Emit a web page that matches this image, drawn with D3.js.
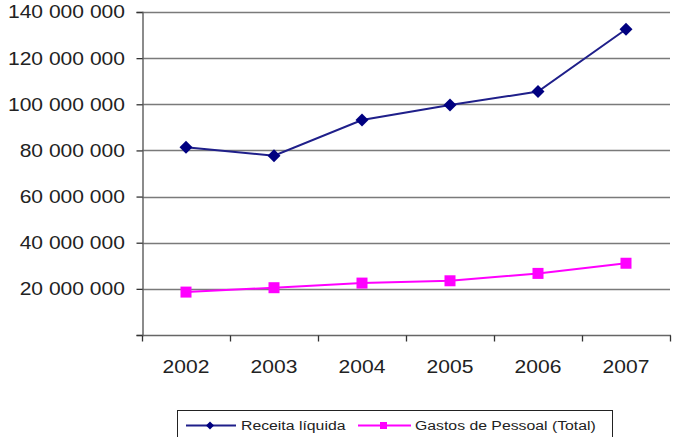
<!DOCTYPE html>
<html><head><meta charset="utf-8">
<script src="https://cdn.jsdelivr.net/npm/d3@7"></script>
<style>body{margin:0;background:#fff}svg{display:block}text{font-family:"Liberation Sans",Arial,sans-serif;fill:#222}</style>
</head><body><svg id="c" width="676" height="437"></svg>
<script>
const years = ["2002","2003","2004","2005","2006","2007"];
const receita = [81400000, 77700000, 93200000, 99700000, 105500000, 132500000];
const gastos = [18600000, 20500000, 22500000, 23500000, 26700000, 31100000];
const yTicks = [0, 20000000, 40000000, 60000000, 80000000, 100000000, 120000000, 140000000];
const seriesNames = ["Receita líquida", "Gastos de Pessoal (Total)"];

const svg = d3.select("#c");
const SX = 1.17;
const mL = 142, mR = 670, mT = 12, mB = 335;
const x = d3.scaleBand().domain(years).range([mL, mR]);
const y = d3.scaleLinear().domain([0, 140000000]).range([mB, mT]);
const fmt = v => v === 0 ? "" : d3.format(",")(v).replace(/,/g, " ");

// gridlines
svg.append("g").selectAll("line").data(yTicks.filter(d => d > 0)).join("line")
  .attr("x1", mL).attr("x2", mR).attr("y1", d => Math.round(y(d)) + 0.5).attr("y2", d => Math.round(y(d)) + 0.5)
  .attr("stroke", "#7a7a7a").attr("stroke-width", 1.3);

// y axis
const yAxis = svg.append("g").attr("transform", `translate(${mL + 0.5},0)`)
  .call(d3.axisLeft(y).tickValues(yTicks).tickSize(6).tickFormat(""));
yAxis.select(".domain").attr("stroke", "#666").attr("stroke-width", 1.5);
yAxis.selectAll(".tick line").attr("stroke", "#333").attr("stroke-width", 1.3);
svg.append("g").selectAll("text").data(yTicks.filter(d => d > 0)).join("text")
  .attr("transform", d => `translate(125,${y(d)}) scale(${SX},1)`)
  .attr("text-anchor", "end").attr("dy", "0.36em").attr("font-size", 18).text(fmt);

// x axis
const xAxis = svg.append("g").attr("transform", `translate(0,${mB + 0.5})`);
xAxis.append("line").attr("x1", mL).attr("x2", mR + 1).attr("stroke", "#666").attr("stroke-width", 1.5);
const edges = years.map(d => x(d)).concat([mR]);
xAxis.selectAll("line.t").data(edges).join("line").attr("class", "t")
  .attr("x1", d => d + 0.5).attr("x2", d => d + 0.5).attr("y1", 0).attr("y2", 6)
  .attr("stroke", "#333").attr("stroke-width", 1.3);
svg.append("g").selectAll("text").data(years).join("text")
  .attr("transform", d => `translate(${x(d) + x.bandwidth() / 2},373) scale(${SX},1)`)
  .attr("text-anchor", "middle").attr("font-size", 18).text(d => d);

const cx = d => x(d) + x.bandwidth() / 2;
const line = d3.line().x((d, i) => cx(years[i])).y(d => y(d));

// Receita
svg.append("path").datum(receita).attr("d", line).attr("fill", "none")
  .attr("stroke", "#1f1f8a").attr("stroke-width", 2);
svg.append("g").selectAll("path").data(receita).join("path")
  .attr("d", d3.symbol(d3.symbolSquare, 84)())
  .attr("transform", (d, i) => `translate(${cx(years[i])},${y(d)}) rotate(45)`)
  .attr("fill", "#000080");

// Gastos
svg.append("path").datum(gastos).attr("d", line).attr("fill", "none")
  .attr("stroke", "#ff00ff").attr("stroke-width", 2);
svg.append("g").selectAll("rect").data(gastos).join("rect")
  .attr("x", (d, i) => cx(years[i]) - 5.5).attr("y", d => y(d) - 5.5)
  .attr("width", 11).attr("height", 11).attr("fill", "#ff00ff");

// legend
const lg = svg.append("g");
lg.append("rect").attr("x", 177.5).attr("y", 410.5).attr("width", 435).attr("height", 40)
  .attr("fill", "#fff").attr("stroke", "#222").attr("stroke-width", 1);
const ly = 425.5;
lg.append("line").attr("x1", 186).attr("x2", 236).attr("y1", ly).attr("y2", ly).attr("stroke", "#1f1f8a").attr("stroke-width", 2);
lg.append("path").attr("d", d3.symbol(d3.symbolSquare, 32)()).attr("transform", `translate(210,${ly}) rotate(45)`).attr("fill", "#000080");
lg.append("text").attr("transform", `translate(241,${ly}) scale(${SX},1)`).attr("dy", "0.36em").attr("font-size", 13.5).text(seriesNames[0]);
lg.append("line").attr("x1", 358).attr("x2", 411).attr("y1", ly).attr("y2", ly).attr("stroke", "#ff00ff").attr("stroke-width", 2);
lg.append("rect").attr("x", 380).attr("y", ly - 3.5).attr("width", 7).attr("height", 7).attr("fill", "#ff00ff");
lg.append("text").attr("transform", `translate(415,${ly}) scale(${SX},1)`).attr("dy", "0.36em").attr("font-size", 13.5).text(seriesNames[1]);
</script></body></html>
